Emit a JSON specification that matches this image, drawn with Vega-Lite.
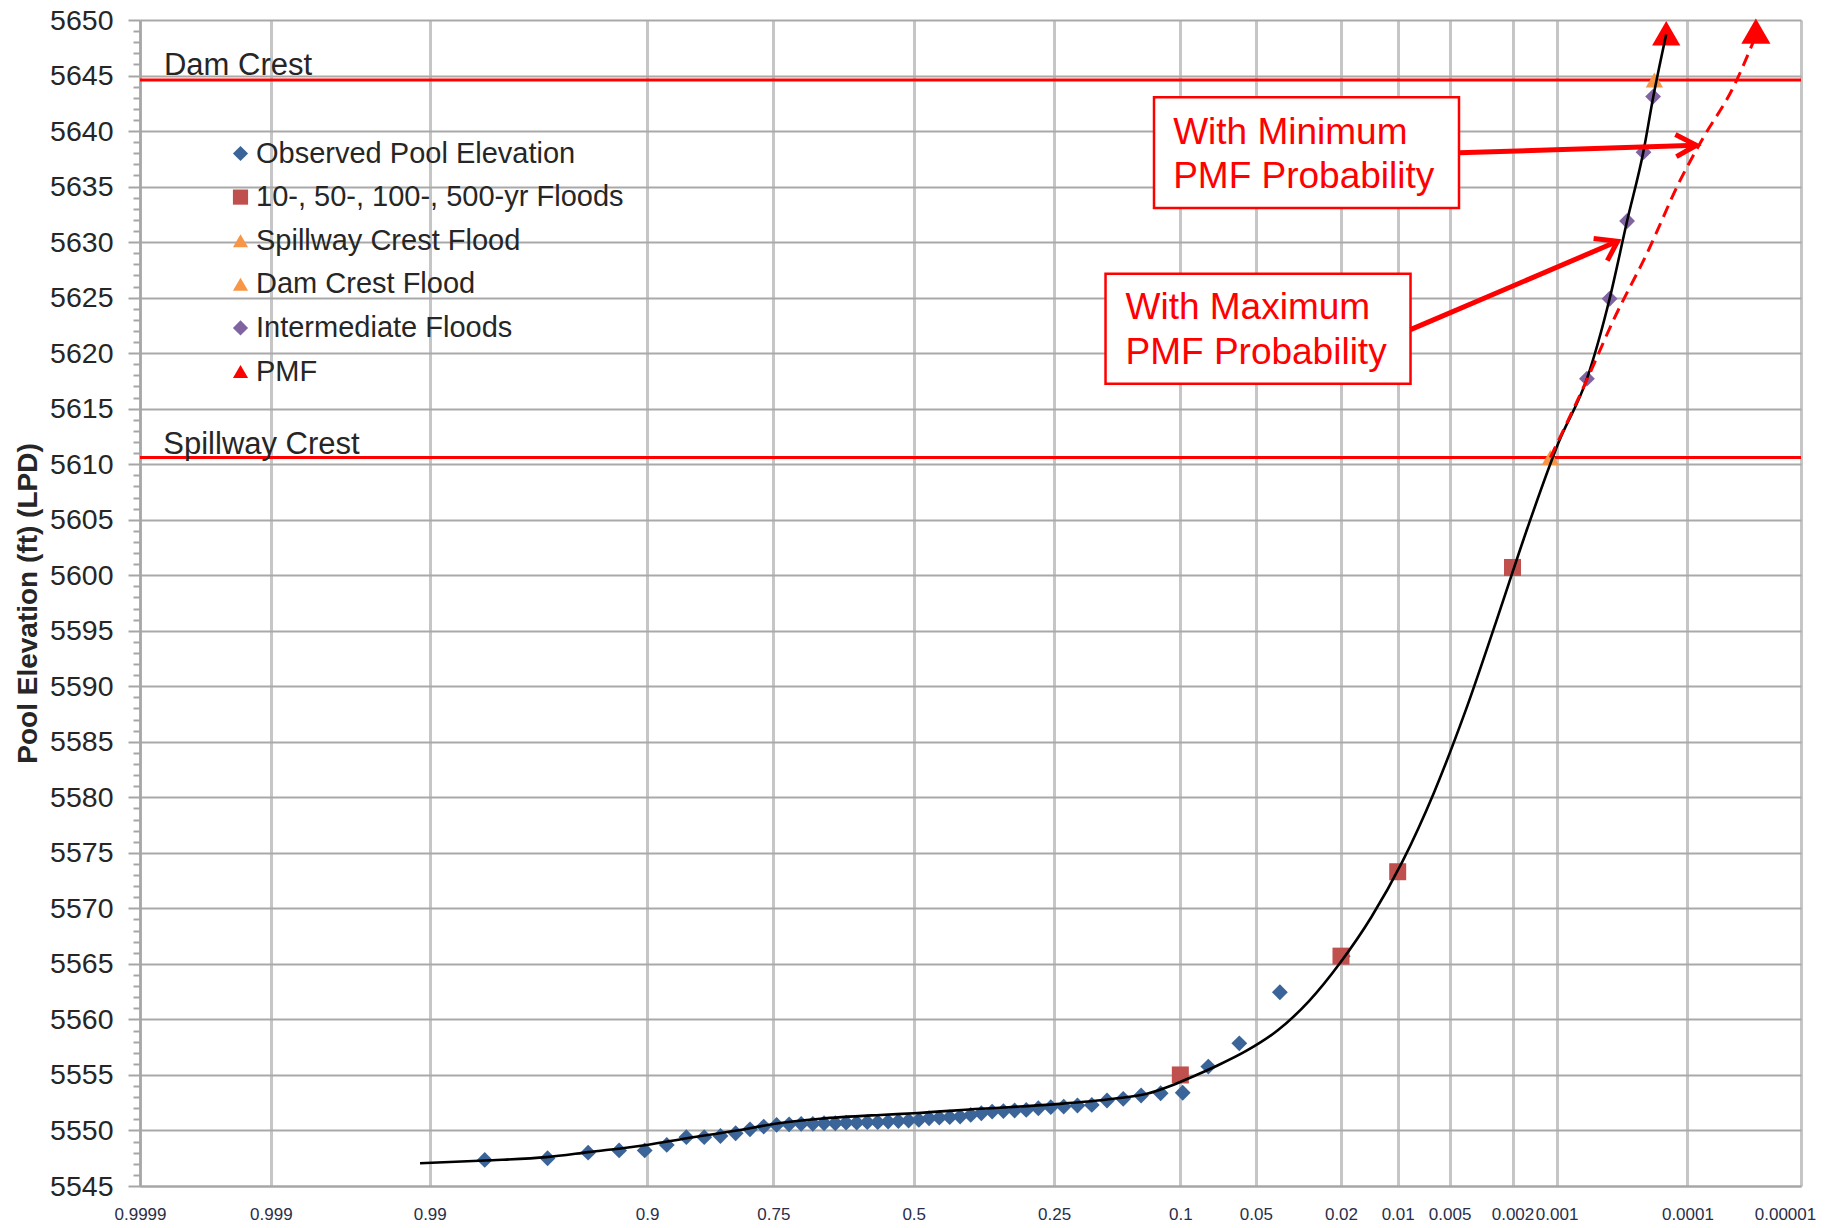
{
  "$schema": "https://vega.github.io/schema/vega-lite/v6.json",
  "width": 1661,
  "height": 1166,
  "autosize": {"type": "none"},
  "padding": {"left": 140, "top": 20, "right": 26, "bottom": 42},
  "background": "white",
  "config": {
    "view": {"stroke": null},
    "font": "Liberation Sans",
    "legend": {
      "orient": "none",
      "legendX": 86,
      "legendY": 119,
      "padding": 0,
      "labelFont": "Liberation Sans",
      "labelFontSize": 29,
      "labelColor": "#262626",
      "labelOffset": 1,
      "labelLimit": 600,
      "rowPadding": 13.6,
      "symbolSize": 230,
      "symbolStrokeWidth": 0,
      "symbolOpacity": 1
    }
  },
  "datasets": {
    "lines": [
      {"z": -3.719016, "z2": 4.264891, "elev": 5644.6},
      {"z": -3.719016, "z2": 4.264891, "elev": 5610.6}
    ],
    "points": [
      {"series": "Observed Pool Elevation", "z": 2.062, "elev": 5565.7},
      {"series": "Observed Pool Elevation", "z": 1.760, "elev": 5562.45},
      {"series": "Observed Pool Elevation", "z": 1.565, "elev": 5557.85},
      {"series": "Observed Pool Elevation", "z": 1.416, "elev": 5555.75},
      {"series": "Observed Pool Elevation", "z": 1.293, "elev": 5553.4},
      {"series": "Observed Pool Elevation", "z": 1.187, "elev": 5553.35},
      {"series": "Observed Pool Elevation", "z": 1.093, "elev": 5553.15},
      {"series": "Observed Pool Elevation", "z": 1.007, "elev": 5552.85},
      {"series": "Observed Pool Elevation", "z": 0.929, "elev": 5552.7},
      {"series": "Observed Pool Elevation", "z": 0.856, "elev": 5552.3},
      {"series": "Observed Pool Elevation", "z": 0.787, "elev": 5552.25},
      {"series": "Observed Pool Elevation", "z": 0.721, "elev": 5552.15},
      {"series": "Observed Pool Elevation", "z": 0.659, "elev": 5552.1},
      {"series": "Observed Pool Elevation", "z": 0.599, "elev": 5552.0},
      {"series": "Observed Pool Elevation", "z": 0.541, "elev": 5551.85},
      {"series": "Observed Pool Elevation", "z": 0.485, "elev": 5551.8},
      {"series": "Observed Pool Elevation", "z": 0.431, "elev": 5551.75},
      {"series": "Observed Pool Elevation", "z": 0.377, "elev": 5551.7},
      {"series": "Observed Pool Elevation", "z": 0.325, "elev": 5551.55},
      {"series": "Observed Pool Elevation", "z": 0.274, "elev": 5551.4},
      {"series": "Observed Pool Elevation", "z": 0.223, "elev": 5551.25},
      {"series": "Observed Pool Elevation", "z": 0.173, "elev": 5551.2},
      {"series": "Observed Pool Elevation", "z": 0.123, "elev": 5551.15},
      {"series": "Observed Pool Elevation", "z": 0.0738, "elev": 5551.1},
      {"series": "Observed Pool Elevation", "z": 0.0246, "elev": 5550.95},
      {"series": "Observed Pool Elevation", "z": -0.0246, "elev": 5550.9},
      {"series": "Observed Pool Elevation", "z": -0.0738, "elev": 5550.85},
      {"series": "Observed Pool Elevation", "z": -0.123, "elev": 5550.8},
      {"series": "Observed Pool Elevation", "z": -0.173, "elev": 5550.75},
      {"series": "Observed Pool Elevation", "z": -0.223, "elev": 5550.75},
      {"series": "Observed Pool Elevation", "z": -0.274, "elev": 5550.7},
      {"series": "Observed Pool Elevation", "z": -0.325, "elev": 5550.7},
      {"series": "Observed Pool Elevation", "z": -0.377, "elev": 5550.65},
      {"series": "Observed Pool Elevation", "z": -0.431, "elev": 5550.65},
      {"series": "Observed Pool Elevation", "z": -0.485, "elev": 5550.6},
      {"series": "Observed Pool Elevation", "z": -0.541, "elev": 5550.6},
      {"series": "Observed Pool Elevation", "z": -0.599, "elev": 5550.55},
      {"series": "Observed Pool Elevation", "z": -0.659, "elev": 5550.5},
      {"series": "Observed Pool Elevation", "z": -0.721, "elev": 5550.35},
      {"series": "Observed Pool Elevation", "z": -0.787, "elev": 5550.1},
      {"series": "Observed Pool Elevation", "z": -0.856, "elev": 5549.75},
      {"series": "Observed Pool Elevation", "z": -0.929, "elev": 5549.5},
      {"series": "Observed Pool Elevation", "z": -1.007, "elev": 5549.4},
      {"series": "Observed Pool Elevation", "z": -1.093, "elev": 5549.4},
      {"series": "Observed Pool Elevation", "z": -1.187, "elev": 5548.7},
      {"series": "Observed Pool Elevation", "z": -1.293, "elev": 5548.2},
      {"series": "Observed Pool Elevation", "z": -1.416, "elev": 5548.2},
      {"series": "Observed Pool Elevation", "z": -1.565, "elev": 5548.0},
      {"series": "Observed Pool Elevation", "z": -1.760, "elev": 5547.5},
      {"series": "Observed Pool Elevation", "z": -2.062, "elev": 5547.35},
      {"series": "10-, 50-, 100-, 500-yr Floods", "z": 1.281552, "elev": 5555.0},
      {"series": "10-, 50-, 100-, 500-yr Floods", "z": 2.053749, "elev": 5565.7},
      {"series": "10-, 50-, 100-, 500-yr Floods", "z": 2.326348, "elev": 5573.3},
      {"series": "10-, 50-, 100-, 500-yr Floods", "z": 2.878162, "elev": 5600.7},
      {"series": "Spillway Crest Flood", "z": 3.06, "elev": 5610.6},
      {"series": "Dam Crest Flood", "z": 3.56, "elev": 5644.6},
      {"series": "Intermediate Floods", "z": 3.236, "elev": 5617.7},
      {"series": "Intermediate Floods", "z": 3.345, "elev": 5624.9},
      {"series": "Intermediate Floods", "z": 3.429, "elev": 5631.9},
      {"series": "Intermediate Floods", "z": 3.508, "elev": 5638.1},
      {"series": "Intermediate Floods", "z": 3.554, "elev": 5643.1},
      {"series": "PMF", "z": 3.617, "elev": 5648.8}
    ],
    "curve": [
      {"z": -2.373, "elev": 5547.05},
      {"z": -2.060, "elev": 5547.3},
      {"z": -1.764, "elev": 5547.6},
      {"z": -1.564, "elev": 5548.05},
      {"z": -1.283, "elev": 5548.7},
      {"z": -1.091, "elev": 5549.3},
      {"z": -0.850, "elev": 5550.0},
      {"z": -0.666, "elev": 5550.6},
      {"z": -0.450, "elev": 5551.05},
      {"z": -0.161, "elev": 5551.4},
      {"z": 0.0, "elev": 5551.55},
      {"z": 0.319, "elev": 5551.95},
      {"z": 0.672, "elev": 5552.35},
      {"z": 0.960, "elev": 5552.85},
      {"z": 1.121, "elev": 5553.3},
      {"z": 1.233, "elev": 5554.0},
      {"z": 1.300, "elev": 5554.52},
      {"z": 1.450, "elev": 5555.76},
      {"z": 1.600, "elev": 5557.18},
      {"z": 1.750, "elev": 5559.02},
      {"z": 1.900, "elev": 5561.65},
      {"z": 2.050, "elev": 5565.1},
      {"z": 2.200, "elev": 5569.22},
      {"z": 2.350, "elev": 5574.25},
      {"z": 2.500, "elev": 5580.4},
      {"z": 2.650, "elev": 5587.67},
      {"z": 2.800, "elev": 5595.85},
      {"z": 2.950, "elev": 5604.25},
      {"z": 3.100, "elev": 5611.97},
      {"z": 3.236, "elev": 5617.7},
      {"z": 3.345, "elev": 5624.9},
      {"z": 3.429, "elev": 5631.9},
      {"z": 3.508, "elev": 5638.2},
      {"z": 3.554, "elev": 5643.0},
      {"z": 3.617, "elev": 5648.7}
    ],
    "dashed": [
      {"z": 3.060, "elev": 5610.6},
      {"z": 3.236, "elev": 5617.6},
      {"z": 3.364, "elev": 5623.0},
      {"z": 3.525, "elev": 5629.0},
      {"z": 3.685, "elev": 5635.6},
      {"z": 3.789, "elev": 5639.2},
      {"z": 3.941, "elev": 5644.0},
      {"z": 4.046, "elev": 5648.5}
    ],
    "dashhead": [
      {"z": 4.048, "elev": 5649.0}
    ],
    "boxes": [
      {"z": 1.155, "z2": 2.621, "elev": 5643.05, "elev2": 5633.08},
      {"z": 0.922, "z2": 2.388, "elev": 5627.16, "elev2": 5617.25}
    ],
    "boxtext": [
      {"z": 1.247, "elev": 5638.87, "label": "With Minimum"},
      {"z": 1.247, "elev": 5634.88, "label": "PMF Probability"},
      {"z": 1.018, "elev": 5623.08, "label": "With Maximum"},
      {"z": 1.018, "elev": 5619.03, "label": "PMF Probability"}
    ],
    "arrows": [
      {"seg": "min-shaft", "ord": 1, "z": 2.621, "elev": 5638.04},
      {"seg": "min-shaft", "ord": 2, "z": 3.762, "elev": 5638.72},
      {"seg": "min-head", "ord": 1, "z": 3.661, "elev": 5639.68},
      {"seg": "min-head", "ord": 2, "z": 3.762, "elev": 5638.72},
      {"seg": "min-head", "ord": 3, "z": 3.666, "elev": 5637.70},
      {"seg": "max-shaft", "ord": 1, "z": 2.388, "elev": 5622.12},
      {"seg": "max-shaft", "ord": 2, "z": 3.383, "elev": 5630.07},
      {"seg": "max-head", "ord": 1, "z": 3.268, "elev": 5630.32},
      {"seg": "max-head", "ord": 2, "z": 3.383, "elev": 5630.07},
      {"seg": "max-head", "ord": 3, "z": 3.334, "elev": 5628.33}
    ],
    "crestlabels": [
      {"z": -3.604, "elev": 5645.09, "label": "Dam Crest"},
      {"z": -3.607, "elev": 5610.95, "label": "Spillway Crest"}
    ]
  },
  "encoding": {
    "x": {
      "field": "z",
      "type": "quantitative",
      "scale": {"domain": [-3.719016, 4.264891], "nice": false, "zero": false},
      "axis": {
        "title": null,
        "values": [-3.719016, -3.090232, -2.326348, -1.281552, -0.67449, 0, 0.67449, 1.281552, 1.644854, 2.053749, 2.326348, 2.575829, 2.878162, 3.090232, 3.719016, 4.264891],
        "labelExpr": "['0.9999','0.999','0.99','0.9','0.75','0.5','0.25','0.1','0.05','0.02','0.01','0.005','0.002','0.001','0.0001','0.00001'][indexof([-3.719016, -3.090232, -2.326348, -1.281552, -0.67449, 0, 0.67449, 1.281552, 1.644854, 2.053749, 2.326348, 2.575829, 2.878162, 3.090232, 3.719016, 4.264891], datum.value)]",
        "labelFontSize": 17,
        "labelColor": "#2b2e48",
        "labelPadding": 20,
        "labelOverlap": false,
        "labelFlush": false,
        "labelBound": false,
        "labelOffset": {"condition": {"test": "datum.value > 4", "value": -16}, "value": 0},
        "ticks": false,
        "grid": true,
        "gridColor": "#c6c6c6",
        "gridWidth": 3,
        "domainColor": "#a6a6a6",
        "domainWidth": 2
      }
    },
    "y": {
      "field": "elev",
      "type": "quantitative",
      "scale": {"domain": [5545, 5650], "nice": false, "zero": false},
      "axis": {
        "title": "Pool Elevation (ft) (LPD)",
        "titleFontSize": 28,
        "titleFontWeight": "bold",
        "titleColor": "#262626",
        "titlePadding": 7,
        "values": [5545,5546,5547,5548,5549,5550,5551,5552,5553,5554,5555,5556,5557,5558,5559,5560,5561,5562,5563,5564,5565,5566,5567,5568,5569,5570,5571,5572,5573,5574,5575,5576,5577,5578,5579,5580,5581,5582,5583,5584,5585,5586,5587,5588,5589,5590,5591,5592,5593,5594,5595,5596,5597,5598,5599,5600,5601,5602,5603,5604,5605,5606,5607,5608,5609,5610,5611,5612,5613,5614,5615,5616,5617,5618,5619,5620,5621,5622,5623,5624,5625,5626,5627,5628,5629,5630,5631,5632,5633,5634,5635,5636,5637,5638,5639,5640,5641,5642,5643,5644,5645,5646,5647,5648,5649,5650],
        "labelExpr": "datum.value % 5 === 0 ? format(datum.value, 'd') : ''",
        "labelFontSize": 28.5,
        "labelColor": "#262626",
        "labelPadding": 15,
        "labelOverlap": false,
        "tickSize": {"condition": {"test": "datum.value % 5 === 0", "value": 12}, "value": 7},
        "tickColor": "#a6a6a6",
        "tickWidth": 2,
        "grid": true,
        "gridColor": "#a9a9a9",
        "gridWidth": 2,
        "gridOpacity": {"condition": {"test": "datum.value % 5 === 0", "value": 1}, "value": 0},
        "domainColor": "#a6a6a6",
        "domainWidth": 2.5
      }
    }
  },
  "layer": [
    {
      "data": {"name": "lines"},
      "mark": {"type": "rule", "color": "#ff0000", "strokeWidth": 3},
      "encoding": {"x2": {"field": "z2"}}
    },
    {
      "data": {"name": "points"},
      "transform": [{"filter": "datum.series === 'Observed Pool Elevation'"}],
      "mark": {"type": "point", "filled": true, "opacity": 1, "strokeWidth": 0, "size": 250},
      "encoding": {
        "color": {"field": "series", "type": "nominal", "scale": {"domain": ["Observed Pool Elevation", "10-, 50-, 100-, 500-yr Floods", "Spillway Crest Flood", "Dam Crest Flood", "Intermediate Floods", "PMF"], "range": ["#3b6498", "#c0504d", "#f79646", "#f79646", "#8064a2", "#ff0000"]}, "legend": {"title": null}},
        "shape": {"field": "series", "type": "nominal", "scale": {"domain": ["Observed Pool Elevation", "10-, 50-, 100-, 500-yr Floods", "Spillway Crest Flood", "Dam Crest Flood", "Intermediate Floods", "PMF"], "range": ["diamond", "square", "triangle-up", "triangle-up", "diamond", "triangle-up"]}, "legend": {"title": null}}
      }
    },
    {
      "data": {"name": "points"},
      "transform": [{"filter": "datum.series === '10-, 50-, 100-, 500-yr Floods'"}],
      "mark": {"type": "point", "filled": true, "opacity": 1, "strokeWidth": 0, "size": 289},
      "encoding": {
        "color": {"field": "series", "type": "nominal", "legend": {"title": null}},
        "shape": {"field": "series", "type": "nominal", "legend": {"title": null}}
      }
    },
    {
      "data": {"name": "points"},
      "transform": [{"filter": "datum.series === 'Spillway Crest Flood' || datum.series === 'Dam Crest Flood'"}],
      "mark": {"type": "point", "filled": true, "opacity": 1, "strokeWidth": 0, "size": 300},
      "encoding": {
        "color": {"field": "series", "type": "nominal", "legend": {"title": null}},
        "shape": {"field": "series", "type": "nominal", "legend": {"title": null}}
      }
    },
    {
      "data": {"name": "points"},
      "transform": [{"filter": "datum.series === 'Intermediate Floods'"}],
      "mark": {"type": "point", "filled": true, "opacity": 1, "strokeWidth": 0, "size": 250},
      "encoding": {
        "color": {"field": "series", "type": "nominal", "legend": {"title": null}},
        "shape": {"field": "series", "type": "nominal", "legend": {"title": null}}
      }
    },
    {
      "data": {"name": "points"},
      "transform": [{"filter": "datum.series === 'PMF'"}],
      "mark": {"type": "point", "filled": true, "opacity": 1, "strokeWidth": 0, "size": 800},
      "encoding": {
        "color": {"field": "series", "type": "nominal", "legend": {"title": null}},
        "shape": {"field": "series", "type": "nominal", "legend": {"title": null}}
      }
    },
    {
      "data": {"name": "curve"},
      "mark": {"type": "line", "color": "#000000", "strokeWidth": 2.6, "interpolate": "monotone"}
    },
    {
      "data": {"name": "dashed"},
      "mark": {"type": "line", "color": "#ff0000", "strokeWidth": 3, "strokeDash": [12, 7], "interpolate": "monotone"}
    },
    {
      "data": {"name": "dashhead"},
      "mark": {"type": "point", "shape": "triangle-up", "filled": true, "color": "#ff0000", "opacity": 1, "size": 850, "strokeWidth": 0}
    },
    {
      "data": {"name": "boxes"},
      "mark": {"type": "rect", "fill": "#ffffff", "stroke": "#ff0000", "strokeWidth": 2.5},
      "encoding": {"x2": {"field": "z2"}, "y2": {"field": "elev2"}}
    },
    {
      "data": {"name": "boxtext"},
      "mark": {"type": "text", "align": "left", "baseline": "alphabetic", "fontSize": 37, "color": "#ff0000", "font": "Liberation Sans"},
      "encoding": {"text": {"field": "label"}}
    },
    {
      "data": {"name": "arrows"},
      "mark": {"type": "line", "color": "#ff0000", "strokeWidth": 5, "strokeJoin": "miter", "strokeCap": "butt"},
      "encoding": {"detail": {"field": "seg"}, "order": {"field": "ord"}}
    },
    {
      "data": {"name": "crestlabels"},
      "mark": {"type": "text", "align": "left", "baseline": "alphabetic", "fontSize": 31, "color": "#262626", "font": "Liberation Sans"},
      "encoding": {"text": {"field": "label"}}
    }
  ]
}
